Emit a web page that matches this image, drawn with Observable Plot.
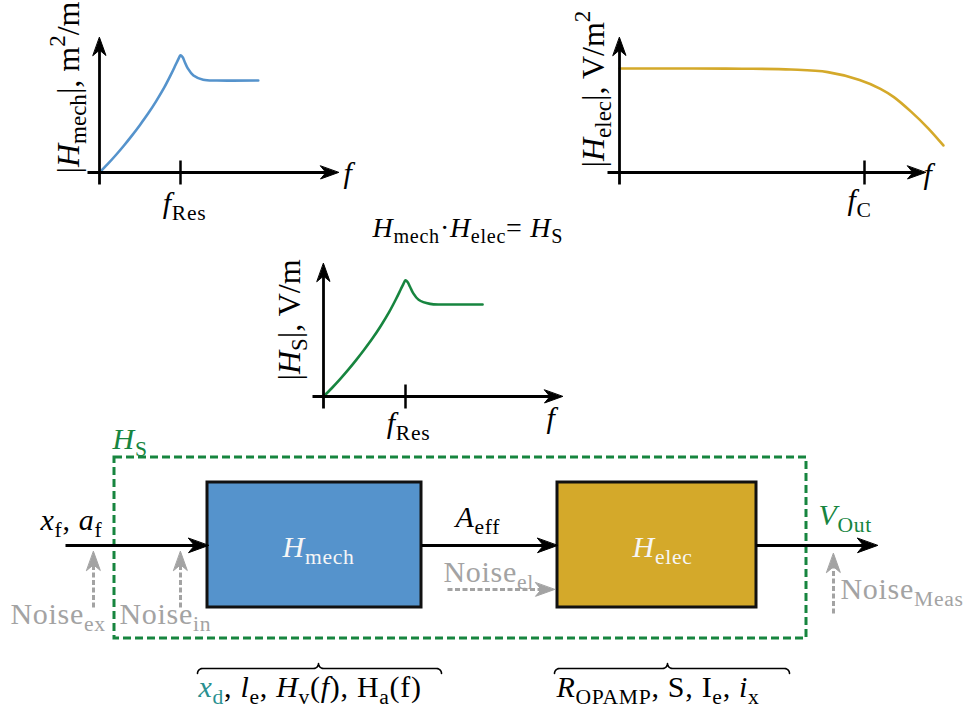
<!DOCTYPE html>
<html>
<head>
<meta charset="utf-8">
<script src="https://cdn.jsdelivr.net/npm/d3@7"></script>
<script src="https://cdn.jsdelivr.net/npm/@observablehq/plot@0.6"></script>
<style>
  html, body { margin: 0; padding: 0; background: #fff; }
  #chart svg { display: block; }
  #chart svg text { white-space: pre; font-family: "Liberation Serif", serif !important; }
</style>
</head>
<body>
<div id="chart"></div>
<script>
// ---------------- data ----------------
// |H_mech| vs f  (f in units of f_Res, magnitude in units of the peak)
const mechF   = [0, 0.1, 0.2, 0.3, 0.4, 0.5, 0.6, 0.7, 0.8, 0.88, 0.94, 0.975, 1.0, 1.025, 1.055, 1.09, 1.16, 1.28, 1.45, 1.96];
const mechMag = [0, 0.07, 0.145, 0.225, 0.31, 0.40, 0.495, 0.60, 0.715, 0.82, 0.905, 0.955, 0.985, 0.97, 0.925, 0.875, 0.815, 0.78, 0.773, 0.773];
// |H_elec| vs f  (f in units of f_C, magnitude in units of the pass band)
const elecF   = [0, 0.3, 0.5, 0.7, 0.85, 0.98, 1.065, 1.12, 1.19, 1.26, 1.322];
const elecMag = [1, 1, 0.998, 0.99, 0.965, 0.89, 0.805, 0.725, 0.585, 0.425, 0.26];
// |H_S| vs f  (f in units of f_Res)
const sysF    = [0, 0.1, 0.2, 0.3, 0.4, 0.5, 0.6, 0.7, 0.8, 0.88, 0.94, 0.975, 1.0, 1.025, 1.055, 1.09, 1.16, 1.3, 1.45, 1.94];
const sysMag  = [0, 0.07, 0.145, 0.225, 0.31, 0.40, 0.495, 0.60, 0.715, 0.82, 0.905, 0.955, 0.985, 0.97, 0.93, 0.88, 0.82, 0.785, 0.78, 0.78];

// labels ($..$ = italic, _{..} subscript, ^{..} superscript, @..@ teal)
const axisNames    = ["|$H$_{mech}|, m^{2}/m", "|$H$_{elec}|, V/m^{2}", "|$H$_{S}|, V/m"];
const axisVar      = "$f$";
const tickNames    = ["$f$_{Res}", "$f$_{C}", "$f$_{Res}"];
const productLabel = "$H$_{mech}·$H$_{elec}= $H$_{S}";
const blockNames   = ["$H$_{mech}", "$H$_{elec}"];
const systemName   = "$H$_{S}";
const signalNames  = ["$x$_{f}, $a$_{f}", "$A$_{eff}", "$V$_{Out}"];
const noiseNames   = ["Noise_{ex}", "Noise_{in}", "Noise_{el}", "Noise_{Meas}"];
const paramNames   = ["@$x$_{d}@, $l$_{e}, $H$_{v}($f$), H_{a}(f)", "$R$_{OPAMP}, S, I_{e}, $i$_{x}"];

// ---------------- styles & layout ----------------
const W = 967, H = 712;
const FONT = "Liberation Serif";
const F = 30, FE = 28, FY = 32;
const BLUE = "#5593cc", GOLD = "#d4a92a", GREEN = "#17853f", GRAY = "#a3a3a3", TEAL = "#2a9090", WHITE = "#f6f6f6";

const panels = [
  {x0: 99,  y0: 172, fx: 81,  my: 119, left: 87,  bottom: 184, xEnd: 338, yEnd: 37,  color: BLUE,  F: mechF, M: mechMag,
   labelX: 78, labelY: 173, fX: 343, fY: 182, tickX: 184, tickY: 212},
  {x0: 619, y0: 172, fx: 245, my: 104, left: 607, bottom: 184, xEnd: 925, yEnd: 37,  color: GOLD,  F: elecF, M: elecMag,
   labelX: 603, labelY: 167, fX: 923, fY: 183, tickX: 859, tickY: 209},
  {x0: 323, y0: 396, fx: 82,  my: 118, left: 312, bottom: 408, xEnd: 562, yEnd: 263, color: GREEN, F: sysF,  M: sysMag,
   labelX: 299, labelY: 380, fX: 546, fY: 427, tickX: 408, tickY: 432}
];

const frame  = {x1: 114, x2: 806, y1: 457, y2: 638};
const blocks = [{x1: 207, x2: 421, y1: 482, y2: 607, fill: BLUE, tx: 318}, {x1: 557, x2: 756, y1: 482, y2: 607, fill: GOLD, tx: 662}];
const lineY = 545;

const blackArrows = [
  {x1: 65, y1: lineY, x2: 208, y2: lineY, len: 20},
  {x1: 421, y1: lineY, x2: 557, y2: lineY, len: 20},
  {x1: 756, y1: lineY, x2: 877, y2: lineY, len: 20}
];
panels.forEach(p => {
  blackArrows.push({x1: p.x0, y1: p.bottom, x2: p.x0, y2: p.yEnd, len: 18});
  blackArrows.push({x1: p.left, y1: p.y0, x2: p.xEnd, y2: p.y0, len: 18});
});
const grayArrows = [
  {x1: 93,  y1: 607, x2: 93,  y2: 551, len: 19},
  {x1: 180, y1: 607, x2: 180, y2: 551, len: 19},
  {x1: 447, y1: 589, x2: 554, y2: 589, len: 19},
  {x1: 833, y1: 613, x2: 833, y2: 553, len: 19}
];
const braces = [
  {a: 197, b: 441, m: 318, yEnd: 673, yBar: 668, yTip: 663},
  {a: 554, b: 789, m: 667, yEnd: 673, yBar: 668, yTip: 663}
];

// ---------------- helpers ----------------
const stealth = {
  draw(ctx, l) {
    const w = l * 0.36;
    ctx.moveTo(0, -l);
    ctx.lineTo(w, 0);
    ctx.lineTo(0, -l * 0.3);
    ctx.lineTo(-w, 0);
    ctx.closePath();
  }
};
const ang = d => Math.atan2(d.x2 - d.x1, -(d.y2 - d.y1)) * 180 / Math.PI;
const shaft = d => {
  const L = Math.hypot(d.x2 - d.x1, d.y2 - d.y1), c = d.len * 0.6;
  return {x: d.x2 - (d.x2 - d.x1) / L * c, y: d.y2 - (d.y2 - d.y1) / L * c};
};
function bracePoints(s) {
  const {a, b, m, yEnd, yBar, yTip} = s, r = yEnd - yBar, rt = yBar - yTip, pts = [];
  const arc = (cx, cy, rad, a0, a1) => { for (let k = 0; k <= 8; k++) { const t = a0 + (a1 - a0) * k / 8; pts.push([cx + rad * Math.cos(t), cy + rad * Math.sin(t)]); } };
  arc(a + r, yEnd, r, Math.PI, 1.5 * Math.PI);
  arc(m - rt, yTip, rt, 0.5 * Math.PI, 0);
  arc(m + rt, yTip, rt, Math.PI, 0.5 * Math.PI);
  arc(b - r, yEnd, r, 1.5 * Math.PI, 2 * Math.PI);
  return pts;
}
const T = (t, x, y, o = {}) => Plot.text([{t, x, y}], {
  x: "x", y: "y", text: "t", lineAnchor: "bottom", fontFamily: FONT,
  textAnchor: o.anchor ?? "start", fill: o.fill ?? "#000", fontSize: o.size ?? F, rotate: o.rotate ?? 0
});

// ---------------- marks ----------------
const marks = [];
marks.push(Plot.rect([frame], {x1: "x1", x2: "x2", y1: "y1", y2: "y2", fill: "none", stroke: GREEN, strokeWidth: 3, strokeDasharray: "8,4"}));
blocks.forEach(b => marks.push(Plot.rect([b], {x1: "x1", x2: "x2", y1: "y1", y2: "y2", fill: b.fill, stroke: "#111", strokeWidth: 3})));
panels.forEach(p => marks.push(Plot.line(p.F, {
  x: f => p.x0 + f * p.fx, y: (f, i) => p.y0 - p.M[i] * p.my,
  stroke: p.color, strokeWidth: 2.6, curve: "catmull-rom"
})));
marks.push(Plot.link(panels, {x1: p => p.x0 + p.fx, x2: p => p.x0 + p.fx, y1: p => p.y0 - 12, y2: p => p.y0 + 12, stroke: "#000", strokeWidth: 2.5}));
marks.push(Plot.link(blackArrows, {x1: "x1", y1: "y1", x2: d => shaft(d).x, y2: d => shaft(d).y, stroke: "#000", strokeWidth: 2.8, strokeLinecap: "butt"}));
marks.push(Plot.link(grayArrows, {x1: "x1", y1: "y1", x2: d => shaft(d).x, y2: d => shaft(d).y, stroke: GRAY, strokeWidth: 3, strokeDasharray: "5,2.5", strokeLinecap: "butt"}));
marks.push(Plot.vector(blackArrows, {x: "x2", y: "y2", rotate: ang, length: d => d.len, anchor: "end", shape: stealth, fill: "#000", stroke: "#000", strokeWidth: 1}));
marks.push(Plot.vector(grayArrows, {x: "x2", y: "y2", rotate: ang, length: d => d.len, anchor: "end", shape: stealth, fill: GRAY, stroke: GRAY, strokeWidth: 1}));
braces.forEach(s => marks.push(Plot.line(bracePoints(s), {x: d => d[0], y: d => d[1], stroke: "#000", strokeWidth: 1.6})));
panels.forEach((p, i) => {
  marks.push(T(axisNames[i], p.labelX, p.labelY, {rotate: -90, size: FY}));
  marks.push(T(axisVar, p.fX, p.fY));
  marks.push(T(tickNames[i], p.tickX, p.tickY, {anchor: "middle"}));
});
marks.push(T(productLabel, 372, 236, {size: FE}));
marks.push(T(systemName, 112, 448, {fill: GREEN}));
marks.push(T(signalNames[0], 40, 529));
marks.push(T(signalNames[1], 455, 526));
marks.push(T(signalNames[2], 818, 524, {fill: GREEN}));
blocks.forEach((b, i) => marks.push(T(blockNames[i], b.tx, 556, {anchor: "middle", fill: WHITE})));
marks.push(T(noiseNames[0], 10, 623, {fill: GRAY}));
marks.push(T(noiseNames[1], 119, 623, {fill: GRAY}));
marks.push(T(noiseNames[2], 443, 581, {fill: GRAY}));
marks.push(T(noiseNames[3], 840, 598, {fill: GRAY}));
marks.push(T(paramNames[0], 198, 696));
marks.push(T(paramNames[1], 556, 696));

const chart = Plot.plot({
  width: W, height: H, margin: 0,
  x: {domain: [0, W], range: [0, W], axis: null},
  y: {domain: [0, H], range: [0, H], axis: null},
  length: {type: "identity"},
  style: {fontFamily: FONT, background: "#fff", overflow: "visible"},
  marks
});
document.getElementById("chart").appendChild(chart);

// ---------------- rich text (subscripts, italics) ----------------
function richText(el) {
  const src = el.textContent;
  if (!/[$_^@]/.test(src)) return;
  const segs = [];
  let italic = false, teal = false, buf = "", i = 0;
  const push = (text, mode) => { if (text) segs.push({text, mode, italic: mode === "n" && italic, teal}); };
  while (i < src.length) {
    const c = src[i];
    if (c === "$") { push(buf, "n"); buf = ""; italic = !italic; i++; }
    else if (c === "@") { push(buf, "n"); buf = ""; teal = !teal; i++; }
    else if ((c === "_" || c === "^") && src[i + 1] === "{") {
      push(buf, "n"); buf = "";
      const j = src.indexOf("}", i + 2);
      push(src.slice(i + 2, j), c === "_" ? "sub" : "sup");
      i = j + 1;
    } else { buf += c; i++; }
  }
  push(buf, "n");
  const fs = parseFloat(getComputedStyle(el).fontSize) || F;
  // Computer-Modern-like width: a little tracking on the horizontal texts
  if (fs < FY) el.style.letterSpacing = "0.7px";
  el.textContent = "";
  let cur = 0;
  for (const s of segs) {
    const target = s.mode === "sub" ? 0.24 * fs : s.mode === "sup" ? -0.42 * fs : 0;
    const ts = document.createElementNS("http://www.w3.org/2000/svg", "tspan");
    if (target !== cur) ts.setAttribute("dy", (target - cur).toFixed(2));
    cur = target;
    if (s.mode !== "n") ts.setAttribute("font-size", (0.72 * fs).toFixed(2));
    if (s.italic) ts.setAttribute("font-style", "italic");
    if (s.teal) ts.setAttribute("fill", TEAL);
    ts.textContent = s.text;
    el.appendChild(ts);
  }
}
chart.querySelectorAll("text").forEach(richText);
</script>
</body>
</html>
